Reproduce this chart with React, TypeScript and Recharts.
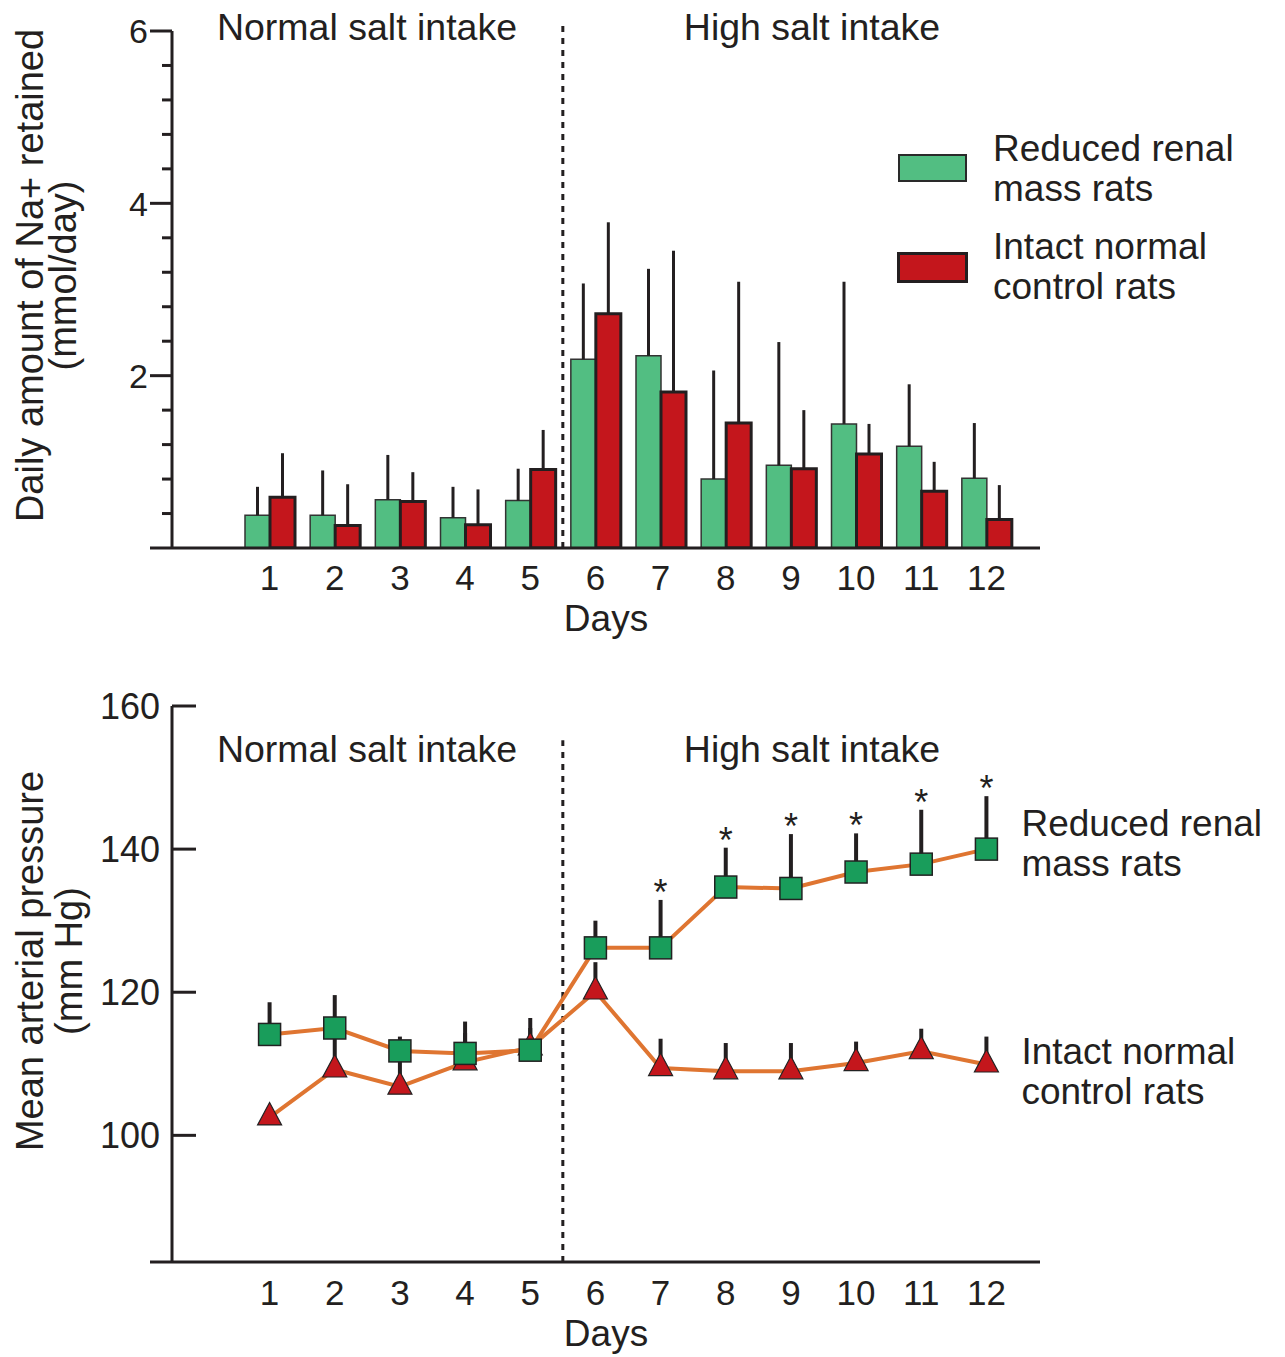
import React from 'react'
import { BarChart, Bar, LineChart, Line, XAxis, YAxis, ErrorBar, ReferenceLine, Legend, LabelList } from 'recharts'

const INK = '#231F20'
const GREEN_BAR = '#52BE82'
const GREEN_DOT = '#199D5B'
const RED = '#C4161C'
const ORANGE = '#DF7531'
const FONT = '"Liberation Sans", Arial, Helvetica, sans-serif'

const DAYS = ['1', '2', '3', '4', '5', '6', '7', '8', '9', '10', '11', '12']

// Na+ retained (mmol/day): means and upward SE
const NA_REDUCED = [0.38, 0.38, 0.56, 0.35, 0.55, 2.19, 2.23, 0.8, 0.96, 1.44, 1.18, 0.81]
const NA_REDUCED_SE = [0.33, 0.52, 0.52, 0.36, 0.37, 0.88, 1.01, 1.26, 1.43, 1.65, 0.72, 0.64]
const NA_INTACT = [0.59, 0.26, 0.54, 0.27, 0.91, 2.72, 1.81, 1.45, 0.92, 1.09, 0.66, 0.33]
const NA_INTACT_SE = [0.51, 0.48, 0.34, 0.41, 0.46, 1.06, 1.64, 1.64, 0.68, 0.35, 0.34, 0.4]
const NA_TICKS = [0, 0.4, 0.8, 1.2, 1.6, 2, 2.4, 2.8, 3.2, 3.6, 4, 4.4, 4.8, 5.2, 5.6, 6]

// mean arterial pressure (mm Hg)
const MAP_REDUCED = [114.1, 115.0, 111.8, 111.45, 111.9, 126.2, 126.2, 134.7, 134.5, 136.8, 137.9, 140.0]
const MAP_REDUCED_SE = [4.5, 4.6, 2.0, 4.45, 4.5, 3.8, 6.7, 5.5, 7.6, 5.4, 7.6, 7.4]
const MAP_INTACT = [102.5, 109.2, 106.8, 110.2, 112.3, 120.1, 109.4, 108.95, 108.95, 110.1, 111.75, 109.9]
const MAP_INTACT_SE = [0, 4.3, 4.1, 4.1, 2.7, 4.1, 4.1, 3.95, 3.95, 3.0, 3.15, 3.9]
const SIGNIFICANT = ['', '', '', '', '', '', '*', '*', '*', '*', '*', '*']
const MAP_TICKS = [100, 120, 140, 160]
const MAP_MIN = 82.3

// last day of normal salt intake (the dashed divider sits at the end of its band)
const LAST_NORMAL_DAY = '5'
const LEGEND_ORDER = ['reduced', 'intact']

const naRows = DAYS.map((day, i) => ({
  day,
  reduced: NA_REDUCED[i],
  reducedSe: [0, NA_REDUCED_SE[i]],
  intact: NA_INTACT[i],
  intactSe: [0, NA_INTACT_SE[i]],
}))

const mapRows = DAYS.map((day, i) => ({
  day,
  reduced: MAP_REDUCED[i],
  reducedSe: [0, MAP_REDUCED_SE[i]],
  reducedTop: MAP_REDUCED[i] + MAP_REDUCED_SE[i],
  sig: SIGNIFICANT[i],
  intact: MAP_INTACT[i],
  intactSe: [0, MAP_INTACT_SE[i]],
}))

const NaTick = ({ x, y, payload }: any) => {
  const v = payload.value
  const major = Math.abs(v / 2 - Math.round(v / 2)) < 1e-6
  const len = major ? 22 : 10
  return (
    <g>
      <line x1={x - len} x2={x} y1={y} y2={y} stroke={INK} strokeWidth={3} />
      {major && v > 0 && (
        <text x={x - len - 2} y={y} dy="0.36em" textAnchor="end" fontSize={34} fill={INK}>
          {v}
        </text>
      )}
    </g>
  )
}

const MapTick = ({ x, y, payload }: any) => {
  if (payload.value === MAP_MIN) {
    return <line x1={x - 22} x2={x} y1={y} y2={y} stroke={INK} strokeWidth={3} />
  }
  return (
    <g>
      <line x1={x} x2={x + 24} y1={y} y2={y} stroke={INK} strokeWidth={3} />
      <text x={x - 12} y={y} dy="0.36em" textAnchor="end" fontSize={36} fill={INK}>
        {payload.value}
      </text>
    </g>
  )
}

const VerticalTitle = ({ viewBox, lines, xs, shift }: any) => {
  const cy = viewBox.y + viewBox.height / 2 + shift
  return (
    <g>
      {lines.map((l: string, i: number) => {
        const bx = viewBox.x + xs[i]
        return (
          <text key={i} x={bx} y={cy} transform={`rotate(-90 ${bx} ${cy})`} textAnchor="middle" fontSize={38} fill={INK}>
            {l}
          </text>
        )
      })}
    </g>
  )
}

const SWATCH: Record<string, React.CSSProperties> = {
  reduced: { background: GREEN_BAR, border: '2px solid #2a2a2a', width: 69, height: 28 },
  intact: { background: RED, border: `3px solid ${INK}`, width: 71, height: 31 },
}

const NaLegend = ({ payload }: any) => {
  const items = [...(payload || [])].sort((a: any, b: any) => LEGEND_ORDER.indexOf(a.dataKey) - LEGEND_ORDER.indexOf(b.dataKey))
  return (
    <div style={{ display: 'flex', flexDirection: 'column', gap: 18 }}>
      {items.map((entry: any) => (
        <div key={entry.dataKey} style={{ display: 'flex', alignItems: 'flex-start' }}>
          <div style={{ width: 71, marginTop: 25, display: 'flex', justifyContent: 'center' }}>
            <div style={{ ...SWATCH[entry.dataKey], boxSizing: 'border-box' }} />
          </div>
          <div style={{ marginLeft: 25, fontSize: 37, lineHeight: '40px', color: INK, whiteSpace: 'pre-line', textAlign: 'left' }}>
            {entry.value}
          </div>
        </div>
      ))}
    </div>
  )
}

const pointXY = (props: any) => ({
  x: props.x ?? props.viewBox?.x,
  y: props.y ?? props.viewBox?.y,
})

const endLabel = (lines: string[], dx: number, dy: number) => (props: any) => {
  if (props.index !== DAYS.length - 1) return null
  const p = pointXY(props)
  const x = p.x + dx
  return (
    <text x={x} y={p.y + dy} fontSize={37} fill={INK}>
      {lines.map((l, i) => (
        <tspan key={i} x={x} dy={i === 0 ? 0 : 40}>
          {l}
        </tspan>
      ))}
    </text>
  )
}

const Asterisk = (props: any) => {
  if (!props.value) return null
  const p = pointXY(props)
  return (
    <text x={p.x} y={p.y + 5} textAnchor="middle" fontSize={36} fill={INK}>
      {props.value}
    </text>
  )
}

const squareDot = (props: any) => {
  const { cx, cy, index } = props
  return <rect key={`sq-${index}`} x={cx - 11} y={cy - 11} width={22} height={22} fill={GREEN_DOT} stroke="#222" strokeWidth={1.5} />
}

const triangleDot = (props: any) => {
  const { cx, cy, index } = props
  return (
    <polygon
      key={`tri-${index}`}
      points={`${cx},${cy - 15} ${cx + 12},${cy + 7.5} ${cx - 12},${cy + 7.5}`}
      fill={RED}
      stroke="#222"
      strokeWidth={1.2}
    />
  )
}

const SectionTitle = ({ text, cx, baseline }: { text: string; cx: number; baseline: number }) => (
  <div
    style={{
      position: 'absolute',
      left: cx - 250,
      top: baseline - 33,
      width: 500,
      textAlign: 'center',
      fontSize: 37.5,
      lineHeight: '40px',
      color: INK,
      whiteSpace: 'nowrap',
    }}
  >
    {text}
  </div>
)

const xPadding = { left: 65, right: 21 }
const axisLine = { stroke: INK, strokeWidth: 3 }

export default function App() {
  return (
    <div style={{ position: 'absolute', left: 0, top: 0, width: 1285, height: 1357, background: '#fff', fontFamily: FONT }}>
      <div style={{ position: 'absolute', left: 0, top: 0 }}>
        <BarChart width={1285} height={660} data={naRows} margin={{ top: 31, right: 245, bottom: 0, left: 0 }} barCategoryGap={8} barGap={0}>
          <XAxis
            dataKey="day"
            scale="band"
            height={112}
            padding={xPadding}
            tickLine={false}
            tickSize={0}
            tickMargin={17}
            interval={0}
            axisLine={axisLine}
            tick={{ fill: INK, fontSize: 35 }}
            label={{ value: 'Days', position: 'insideBottom', offset: 29, fill: INK, fontSize: 37 }}
          />
          <YAxis
            domain={[0, 6]}
            ticks={NA_TICKS}
            interval={0}
            width={172}
            tickLine={false}
            tickSize={0}
            tickMargin={0}
            axisLine={axisLine}
            tick={(p: any) => <NaTick {...p} />}
            allowDataOverflow
            label={<VerticalTitle lines={['Daily amount of Na+ retained', '(mmol/day)']} xs={[43, 76]} shift={-14} />}
          />
          <ReferenceLine
            segment={[
              { x: LAST_NORMAL_DAY, y: 0 },
              { x: LAST_NORMAL_DAY, y: 6.1 },
            ]}
            position="end"
            stroke={INK}
            strokeWidth={3}
            strokeDasharray="6 6"
            ifOverflow="visible"
          />
          <Legend
            layout="vertical"
            align="center"
            verticalAlign="middle"
            wrapperStyle={{ left: 897, top: 129, width: 388 }}
            content={NaLegend}
          />
          <Bar dataKey="reduced" name={'Reduced renal\nmass rats'} fill={GREEN_BAR} stroke="#333" strokeWidth={1.5} isAnimationActive={false}>
            <ErrorBar dataKey="reducedSe" direction="y" width={0} stroke={INK} strokeWidth={3} />
          </Bar>
          <Bar dataKey="intact" name={'Intact normal\ncontrol rats'} fill={RED} stroke={INK} strokeWidth={3} isAnimationActive={false}>
            <ErrorBar dataKey="intactSe" direction="y" width={0} stroke={INK} strokeWidth={3} />
          </Bar>
        </BarChart>
        <SectionTitle text="Normal salt intake" cx={367} baseline={40} />
        <SectionTitle text="High salt intake" cx={812} baseline={40} />
      </div>

      <div style={{ position: 'absolute', left: 0, top: 660 }}>
        <LineChart width={1285} height={697} data={mapRows} margin={{ top: 46, right: 245, bottom: 0, left: 0 }}>
          <XAxis
            dataKey="day"
            scale="band"
            height={95}
            padding={xPadding}
            tickLine={false}
            tickSize={0}
            tickMargin={18}
            interval={0}
            axisLine={axisLine}
            tick={{ fill: INK, fontSize: 35 }}
            label={{ value: 'Days', position: 'insideBottom', offset: 11, fill: INK, fontSize: 37 }}
          />
          <YAxis
            domain={[MAP_MIN, 160]}
            ticks={[MAP_MIN, ...MAP_TICKS]}
            interval={0}
            width={172}
            tickLine={false}
            tickSize={0}
            tickMargin={0}
            axisLine={axisLine}
            tick={(p: any) => <MapTick {...p} />}
            allowDataOverflow
            label={<VerticalTitle lines={['Mean arterial pressure', '(mm Hg)']} xs={[43, 82]} shift={-23} />}
          />
          <ReferenceLine
            segment={[
              { x: LAST_NORMAL_DAY, y: MAP_MIN },
              { x: LAST_NORMAL_DAY, y: 155.2 },
            ]}
            position="end"
            stroke={INK}
            strokeWidth={3}
            strokeDasharray="6 6"
            ifOverflow="visible"
          />
          <Line dataKey="intact" stroke={ORANGE} strokeWidth={4} dot={triangleDot} activeDot={false} isAnimationActive={false}>
            <ErrorBar dataKey="intactSe" direction="y" width={0} stroke={INK} strokeWidth={4} />
            <LabelList dataKey="intact" content={endLabel(['Intact normal', 'control rats'], 35, -1)} />
          </Line>
          <Line dataKey="reduced" stroke={ORANGE} strokeWidth={4} dot={squareDot} activeDot={false} isAnimationActive={false}>
            <ErrorBar dataKey="reducedSe" direction="y" width={0} stroke={INK} strokeWidth={4} />
            <LabelList dataKey="reduced" content={endLabel(['Reduced renal', 'mass rats'], 35, -13)} />
          </Line>
          <Line dataKey="reducedTop" stroke="none" dot={false} activeDot={false} legendType="none" isAnimationActive={false}>
            <LabelList dataKey="sig" content={Asterisk} />
          </Line>
        </LineChart>
        <SectionTitle text="Normal salt intake" cx={367} baseline={102} />
        <SectionTitle text="High salt intake" cx={812} baseline={102} />
      </div>
    </div>
  )
}
